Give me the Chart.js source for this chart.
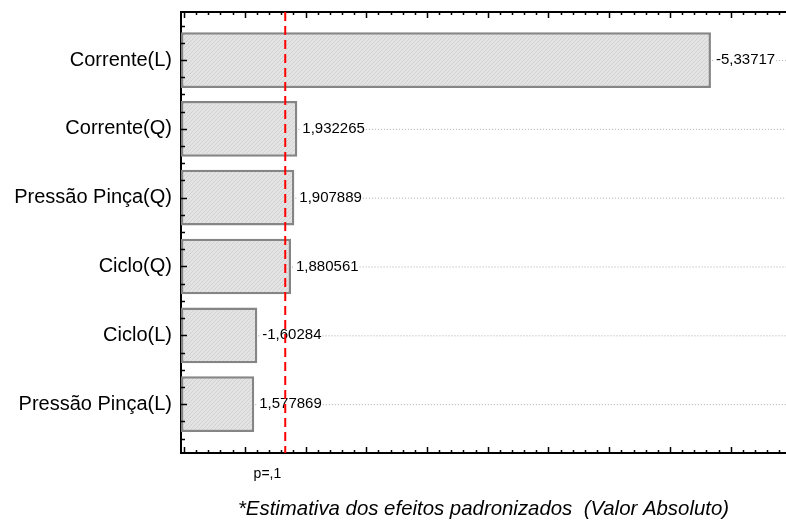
<!DOCTYPE html>
<html>
<head>
<meta charset="utf-8">
<script src="https://cdn.jsdelivr.net/npm/chart.js@4.4.0/dist/chart.umd.min.js"></script>
<style>
  html, body { margin: 0; padding: 0; background: #fff; overflow: hidden; }
  #wrap { width: 786px; height: 523px; }
</style>
</head>
<body>
<div id="wrap"><canvas id="paretoChart" width="786" height="523"></canvas></div>
<script>
// Pareto chart - standardized effects (absolute value)

const factors = ['Corrente(L)', 'Corrente(Q)', 'Pressão Pinça(Q)', 'Ciclo(Q)', 'Ciclo(L)', 'Pressão Pinça(L)'];
const effects = [-5.33717, 1.932265, 1.907889, 1.880561, -1.60284, 1.577869];
const pValue = 1.833;
const pLabel = 'p=,1';
const axisTitle = '*Estimativa dos efeitos padronizados  (Valor Absoluto)';

const xMin = 0.975;
const xMax = 5.955;
const yMin = -0.698;
const yMax = 5.71;

const FONT = '"Liberation Sans", Arial, sans-serif';

function makeHatch(ctx) {
    const c = document.createElement('canvas');
    c.width = 4;
    c.height = 4;
    const g = c.getContext('2d');
    g.fillStyle = '#e3e3e3';
    g.fillRect(0, 0, 4, 4);
    g.strokeStyle = '#d2d2d2';
    g.lineWidth = 1;
    g.beginPath();
    g.moveTo(0, 4);
    g.lineTo(4, 0);
    g.stroke();
    return ctx.createPattern(c, 'repeat');
}

const paretoExtras = {
    id: 'paretoExtras',
    afterDatasetsDraw(chart) {
        const { ctx, chartArea } = chart;
        const meta = chart.getDatasetMeta(0);
        ctx.save();
        ctx.font = '15px ' + FONT;
        ctx.textBaseline = 'middle';
        meta.data.forEach((bar, i) => {
            const txt = String(effects[i]).replace('.', ',');
            const tx = bar.x + 5;
            const w = ctx.measureText(txt).width;
            ctx.strokeStyle = '#aaaaaa';
            ctx.lineWidth = 1;
            ctx.setLineDash([1, 2]);
            ctx.beginPath();
            ctx.moveTo(bar.x + 1, bar.y + 0.5);
            ctx.lineTo(tx - 1, bar.y + 0.5);
            ctx.moveTo(tx + w + 1, bar.y + 0.5);
            ctx.lineTo(chartArea.right, bar.y + 0.5);
            ctx.stroke();
            ctx.setLineDash([]);
            ctx.fillStyle = '#000';
            ctx.fillText(txt, tx, bar.y);
        });
        ctx.restore();
    },
    afterDraw(chart) {
        const { ctx, chartArea, scales: { x, y } } = chart;
        ctx.save();
        // inward tick marks
        ctx.strokeStyle = '#000';
        ctx.lineWidth = 1.5;
        ctx.beginPath();
        for (let k = Math.ceil(xMin * 10); k <= Math.floor(xMax * 10); k++) {
            const px = Math.round(x.getPixelForValue(k / 10)) + 0.5;
            const len = k % 5 === 0 ? 6 : 3;
            ctx.moveTo(px, chartArea.bottom);
            ctx.lineTo(px, chartArea.bottom - len);
            ctx.moveTo(px, chartArea.top);
            ctx.lineTo(px, chartArea.top + len);
        }
        for (let k = Math.ceil(yMin * 4); k <= Math.floor(yMax * 4); k++) {
            const py = Math.round(y.getPixelForValue(k / 4)) + 0.5;
            const len = k % 4 === 0 ? 6 : 4;
            ctx.moveTo(chartArea.left, py);
            ctx.lineTo(chartArea.left + len, py);
        }
        ctx.stroke();

        // p = ,1 line
        const px = x.getPixelForValue(pValue);
        ctx.strokeStyle = '#ff0000';
        ctx.lineWidth = 2;
        ctx.setLineDash([9, 5]);
        ctx.beginPath();
        ctx.moveTo(px, chartArea.top);
        ctx.lineTo(px, chartArea.bottom);
        ctx.stroke();
        ctx.restore();
    }
};

const ctx = document.getElementById('paretoChart').getContext('2d');

const paretoChart = new Chart(ctx, {
    type: 'bar',
    data: {
        datasets: [{
            data: effects.map((v, i) => ({ x: Math.abs(v), y: i })),
            base: xMin,
            backgroundColor: makeHatch(ctx),
            borderColor: '#858585',
            borderWidth: 2.5,
            borderSkipped: false,
            categoryPercentage: 0.81,
            barPercentage: 1
        }]
    },
    options: {
        indexAxis: 'y',
        responsive: false,
        animation: false,
        devicePixelRatio: 1,
        layout: { padding: { top: 12, left: 0, right: 0, bottom: 0 } },
        plugins: {
            legend: { display: false },
            tooltip: { enabled: false }
        },
        scales: {
            x: {
                type: 'linear',
                position: 'bottom',
                min: xMin,
                max: xMax,
                z: 1,
                grid: { display: false, drawTicks: false },
                border: { display: true, color: '#000', width: 2 },
                afterBuildTicks: scale => { scale.ticks = [{ value: pValue }]; },
                afterFit: scale => {
                    scale.height = 70;
                    scale.paddingLeft = 0;
                    scale.paddingRight = 0;
                },
                ticks: {
                    callback: () => pLabel,
                    color: '#000',
                    font: { family: FONT, size: 14 },
                    padding: 13,
                    align: 'end',
                    labelOffset: -4,
                    maxRotation: 0,
                    autoSkip: false
                },
                title: {
                    display: true,
                    text: axisTitle,
                    color: '#000',
                    font: { family: FONT, size: 20.4, style: 'italic' },
                    padding: { top: 0, bottom: 1 }
                }
            },
            x2: {
                type: 'linear',
                position: 'top',
                min: xMin,
                max: xMax,
                z: 1,
                grid: { display: false, drawTicks: false },
                border: { display: true, color: '#000', width: 2 },
                ticks: { display: false },
                afterFit: scale => {
                    scale.height = 0;
                    scale.paddingLeft = 0;
                    scale.paddingRight = 0;
                }
            },
            y: {
                type: 'linear',
                reverse: true,
                offset: false,
                min: yMin,
                max: yMax,
                z: 1,
                grid: { display: false, drawTicks: false, offset: false },
                border: { display: true, color: '#000', width: 2 },
                afterBuildTicks: scale => { scale.ticks = factors.map((f, i) => ({ value: i })); },
                afterFit: scale => {
                    scale.width = 181;
                    scale.paddingTop = 0;
                    scale.paddingBottom = 0;
                },
                ticks: {
                    callback: (value) => factors[value],
                    color: '#000',
                    font: { family: FONT, size: 20 },
                    padding: 9,
                    autoSkip: false
                }
            }
        }
    },
    plugins: [paretoExtras]
});
</script>
</body>
</html>
